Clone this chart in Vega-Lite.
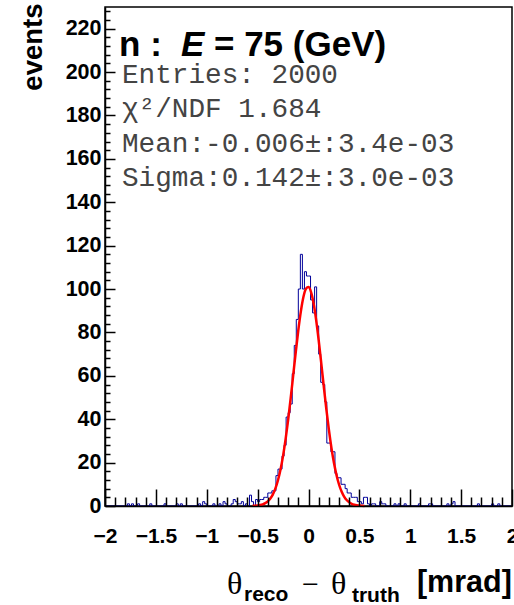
{
  "$schema": "https://vega.github.io/schema/vega-lite/v6.json",
  "width": 407,
  "height": 499,
  "autosize": {"type": "none"},
  "padding": {"left": 105, "top": 7, "right": 2, "bottom": 99},
  "background": "white",
  "config": {"view": {"stroke": "black", "strokeWidth": 1.5}, "font": "Liberation Sans", "axis": {"labelOverlap": false, "labelFlush": false, "labelBound": false, "labelSeparation": 0}},
  "layer": [
    {
      "data": {"values": [
        {"x":-1.99,"n":0},{"x":-1.97,"n":0},{"x":-1.95,"n":0},{"x":-1.93,"n":0},{"x":-1.91,"n":0},{"x":-1.89,"n":0},{"x":-1.87,"n":0},{"x":-1.85,"n":0},{"x":-1.83,"n":0},{"x":-1.81,"n":0},
        {"x":-1.79,"n":0},{"x":-1.77,"n":1},{"x":-1.75,"n":0},{"x":-1.73,"n":1},{"x":-1.71,"n":0},{"x":-1.69,"n":0},{"x":-1.67,"n":1},{"x":-1.65,"n":0},{"x":-1.63,"n":0},{"x":-1.61,"n":0},
        {"x":-1.59,"n":0},{"x":-1.57,"n":0},{"x":-1.55,"n":1},{"x":-1.53,"n":0},{"x":-1.51,"n":0},{"x":-1.49,"n":0},{"x":-1.47,"n":0},{"x":-1.45,"n":0},{"x":-1.43,"n":0},{"x":-1.41,"n":1},
        {"x":-1.39,"n":0},{"x":-1.37,"n":0},{"x":-1.35,"n":0},{"x":-1.33,"n":0},{"x":-1.31,"n":0},{"x":-1.29,"n":1},{"x":-1.27,"n":0},{"x":-1.25,"n":1},{"x":-1.23,"n":0},{"x":-1.21,"n":0},
        {"x":-1.19,"n":0},{"x":-1.17,"n":0},{"x":-1.15,"n":0},{"x":-1.13,"n":0},{"x":-1.11,"n":0},{"x":-1.09,"n":0},{"x":-1.07,"n":1},{"x":-1.05,"n":0},{"x":-1.03,"n":2},{"x":-1.01,"n":1},
        {"x":-0.99,"n":0},{"x":-0.97,"n":0},{"x":-0.95,"n":0},{"x":-0.93,"n":1},{"x":-0.91,"n":0},{"x":-0.89,"n":0},{"x":-0.87,"n":1},{"x":-0.85,"n":0},{"x":-0.83,"n":2},{"x":-0.81,"n":1},
        {"x":-0.79,"n":0},{"x":-0.77,"n":0},{"x":-0.75,"n":1},{"x":-0.73,"n":3},{"x":-0.71,"n":2},{"x":-0.69,"n":1},{"x":-0.67,"n":1},{"x":-0.65,"n":2},{"x":-0.63,"n":0},{"x":-0.61,"n":1},
        {"x":-0.59,"n":0},{"x":-0.57,"n":5},{"x":-0.55,"n":2},{"x":-0.53,"n":0},{"x":-0.51,"n":3},{"x":-0.49,"n":2},{"x":-0.47,"n":3},{"x":-0.45,"n":3},{"x":-0.43,"n":4},{"x":-0.41,"n":4},
        {"x":-0.39,"n":6},{"x":-0.37,"n":6},{"x":-0.35,"n":7},{"x":-0.33,"n":7},{"x":-0.31,"n":14},{"x":-0.29,"n":17},{"x":-0.27,"n":17},{"x":-0.25,"n":23},{"x":-0.23,"n":28},{"x":-0.21,"n":41},
        {"x":-0.19,"n":43},{"x":-0.17,"n":47},{"x":-0.15,"n":61},{"x":-0.13,"n":74},{"x":-0.11,"n":86},{"x":-0.09,"n":100},{"x":-0.07,"n":116},{"x":-0.05,"n":100},{"x":-0.03,"n":108},{"x":-0.01,"n":106},
        {"x":0.01,"n":106},{"x":0.03,"n":95},{"x":0.05,"n":89},{"x":0.07,"n":101},{"x":0.09,"n":83},{"x":0.11,"n":70},{"x":0.13,"n":57},{"x":0.15,"n":56},{"x":0.17,"n":48},{"x":0.19,"n":29},
        {"x":0.21,"n":29},{"x":0.23,"n":25},{"x":0.25,"n":25},{"x":0.27,"n":15},{"x":0.29,"n":13},{"x":0.31,"n":13},{"x":0.33,"n":10},{"x":0.35,"n":10},{"x":0.37,"n":8},{"x":0.39,"n":6},
        {"x":0.41,"n":6},{"x":0.43,"n":4},{"x":0.45,"n":4},{"x":0.47,"n":4},{"x":0.49,"n":2},{"x":0.51,"n":2},{"x":0.53,"n":1},{"x":0.55,"n":4},{"x":0.57,"n":4},{"x":0.59,"n":1},
        {"x":0.61,"n":0},{"x":0.63,"n":1},{"x":0.65,"n":1},{"x":0.67,"n":0},{"x":0.69,"n":0},{"x":0.71,"n":2},{"x":0.73,"n":1},{"x":0.75,"n":1},{"x":0.77,"n":0},{"x":0.79,"n":0},
        {"x":0.81,"n":0},{"x":0.83,"n":0},{"x":0.85,"n":1},{"x":0.87,"n":0},{"x":0.89,"n":1},{"x":0.91,"n":0},{"x":0.93,"n":0},{"x":0.95,"n":1},{"x":0.97,"n":0},{"x":0.99,"n":0},
        {"x":1.01,"n":0},{"x":1.03,"n":0},{"x":1.05,"n":0},{"x":1.07,"n":0},{"x":1.09,"n":1},{"x":1.11,"n":0},{"x":1.13,"n":0},{"x":1.15,"n":0},{"x":1.17,"n":0},{"x":1.19,"n":1},
        {"x":1.21,"n":1},{"x":1.23,"n":0},{"x":1.25,"n":0},{"x":1.27,"n":0},{"x":1.29,"n":0},{"x":1.31,"n":0},{"x":1.33,"n":0},{"x":1.35,"n":0},{"x":1.37,"n":1},{"x":1.39,"n":0},
        {"x":1.41,"n":1},{"x":1.43,"n":2},{"x":1.45,"n":0},{"x":1.47,"n":0},{"x":1.49,"n":0},{"x":1.51,"n":0},{"x":1.53,"n":0},{"x":1.55,"n":0},{"x":1.57,"n":0},{"x":1.59,"n":0},
        {"x":1.61,"n":0},{"x":1.63,"n":0},{"x":1.65,"n":0},{"x":1.67,"n":1},{"x":1.69,"n":0},{"x":1.71,"n":0},{"x":1.73,"n":0},{"x":1.75,"n":0},{"x":1.77,"n":0},{"x":1.79,"n":0},
        {"x":1.81,"n":1},{"x":1.83,"n":0},{"x":1.85,"n":0},{"x":1.87,"n":1},{"x":1.89,"n":0},{"x":1.91,"n":0},{"x":1.93,"n":0},{"x":1.95,"n":0},{"x":1.97,"n":0},{"x":1.99,"n":0}
      ]},
      "mark": {"type": "line", "interpolate": "step", "stroke": "#000099", "strokeWidth": 1},
      "encoding": {
        "x": {"field": "x", "type": "quantitative", "title": null,
          "scale": {"domain": [-2, 2], "nice": false, "zero": false},
          "axis": {
            "values": [-2,-1.9,-1.8,-1.7,-1.6,-1.5,-1.4,-1.3,-1.2,-1.1,-1,-0.9,-0.8,-0.7,-0.6,-0.5,-0.4,-0.3,-0.2,-0.1,0,0.1,0.2,0.3,0.4,0.5,0.6,0.7,0.8,0.9,1,1.1,1.2,1.3,1.4,1.5,1.6,1.7,1.8,1.9,2],
            "tickCount": 1000,
            "grid": false, "zindex": 1,
            "domainColor": "black", "domainWidth": 1.5,
            "tickColor": "black", "tickWidth": 1.5,
            "tickSize": {"condition": {"test": "abs(round(datum.value*10)) % 5 == 0", "value": -17}, "value": -9},
            "labelExpr": "abs(round(datum.value*10)) % 5 == 0 ? format(datum.value, '~g') : ''",
            "labelFontSize": 21,
            "labelPadding": 36,
            "labelFont": "Liberation Sans", "labelFontWeight": "bold", "labelColor": "black",
            "labelOverlap": false, "labelFlush": false, "labelBound": false
          }
        },
        "y": {"field": "n", "type": "quantitative",
          "scale": {"domain": [0, 230], "nice": false},
          "axis": {
            "values": [0,4,8,12,16,20,24,28,32,36,40,44,48,52,56,60,64,68,72,76,80,84,88,92,96,100,104,108,112,116,120,124,128,132,136,140,144,148,152,156,160,164,168,172,176,180,184,188,192,196,200,204,208,212,216,220,224,228],
            "tickCount": 1000,
            "grid": false, "zindex": 1,
            "domainColor": "black", "domainWidth": 1.5,
            "tickColor": "black", "tickWidth": 1.5,
            "tickSize": {"condition": {"test": "datum.value % 20 == 0", "value": -10}, "value": -5},
            "labelExpr": "datum.value % 20 == 0 ? format(datum.value, 'd') : ''",
            "labelFontSize": 21.5,
            "labelPadding": 14,
            "labelFont": "Liberation Sans", "labelFontWeight": "bold", "labelColor": "black",
            "labelOverlap": false, "labelFlush": false, "labelBound": false,
            "title": "events", "titleFont": "Liberation Sans", "titleFontWeight": "bold", "titleFontSize": 27.5, "titleColor": "black",
            "titleAngle": -90, "titleAlign": "right", "titleBaseline": "alphabetic", "titleX": -64, "titleY": -4
          }
        }
      }
    },
    {
      "data": {"values": [
        {"x":-0.55,"g":0.07},{"x":-0.525,"g":0.13},{"x":-0.5,"g":0.24},{"x":-0.475,"g":0.43},{"x":-0.45,"g":0.76},{"x":-0.425,"g":1.3},{"x":-0.4,"g":2.15},{"x":-0.375,"g":3.45},{"x":-0.35,"g":5.37},{"x":-0.325,"g":8.1},
        {"x":-0.3,"g":11.85},{"x":-0.275,"g":16.8},{"x":-0.25,"g":23.1},{"x":-0.225,"g":30.8},{"x":-0.2,"g":39.7},{"x":-0.175,"g":49.7},{"x":-0.15,"g":60.4},{"x":-0.125,"g":71.1},{"x":-0.1,"g":81.1},{"x":-0.075,"g":89.7},
        {"x":-0.05,"g":96.3},{"x":-0.025,"g":100.1},{"x":0,"g":100.9},{"x":0.025,"g":98.6},{"x":0.05,"g":93.4},{"x":0.075,"g":85.8},{"x":0.1,"g":76.4},{"x":0.125,"g":66.0},{"x":0.15,"g":55.2},{"x":0.175,"g":44.8},
        {"x":0.2,"g":35.3},{"x":0.225,"g":26.9},{"x":0.25,"g":19.9},{"x":0.275,"g":14.3},{"x":0.3,"g":9.91},{"x":0.325,"g":6.68},{"x":0.35,"g":4.36},{"x":0.375,"g":2.76},{"x":0.4,"g":1.7},{"x":0.425,"g":1.01},
        {"x":0.45,"g":0.58},{"x":0.475,"g":0.33},{"x":0.5,"g":0.18},{"x":0.525,"g":0.09},{"x":0.55,"g":0.04}
      ]},
      "mark": {"type": "line", "interpolate": "monotone", "stroke": "#ff0000", "strokeWidth": 2.5},
      "encoding": {
        "x": {"field": "x", "type": "quantitative"},
        "y": {"field": "g", "type": "quantitative"}
      }
    },
    {
      "data": {"values": [{"t": "n :"}]},
      "mark": {"type": "text", "align": "left", "baseline": "alphabetic", "font": "Liberation Sans", "fontWeight": "bold", "fontSize": 35, "color": "black"},
      "encoding": {"x": {"datum": -1.862, "type": "quantitative"}, "y": {"datum": 207.4, "type": "quantitative"}, "text": {"field": "t"}}
    },
    {
      "data": {"values": [{"t": "E"}]},
      "mark": {"type": "text", "align": "left", "baseline": "alphabetic", "font": "Liberation Sans", "fontWeight": "bold", "fontStyle": "italic", "fontSize": 35, "color": "black"},
      "encoding": {"x": {"datum": -1.253, "type": "quantitative"}, "y": {"datum": 207.4, "type": "quantitative"}, "text": {"field": "t"}}
    },
    {
      "data": {"values": [{"t": "= 75 (GeV)"}]},
      "mark": {"type": "text", "align": "left", "baseline": "alphabetic", "font": "Liberation Sans", "fontWeight": "bold", "fontSize": 35, "color": "black"},
      "encoding": {"x": {"datum": -0.929, "type": "quantitative"}, "y": {"datum": 207.4, "type": "quantitative"}, "text": {"field": "t"}}
    },
    {
      "data": {"values": [{"t": ["Entries: 2000", "χ²/NDF 1.684", "Mean:-0.006±:3.4e-03", "Sigma:0.142±:3.0e-03"]}]},
      "mark": {"type": "text", "align": "left", "baseline": "alphabetic", "font": "Liberation Mono", "fontSize": 27.7, "lineHeight": 34.5, "color": "#444444"},
      "encoding": {"x": {"datum": -1.833, "type": "quantitative"}, "y": {"datum": 195.0, "type": "quantitative"}, "text": {"field": "t"}}
    },
    {
      "data": {"values": [{"t": "θ"}]},
      "mark": {"type": "text", "align": "left", "baseline": "alphabetic", "font": "Liberation Serif", "fontSize": 32, "color": "black"},
      "encoding": {"x": {"datum": -0.801, "type": "quantitative"}, "y": {"datum": -40.56, "type": "quantitative"}, "text": {"field": "t"}}
    },
    {
      "data": {"values": [{"t": "reco"}]},
      "mark": {"type": "text", "align": "left", "baseline": "alphabetic", "font": "Liberation Sans", "fontWeight": "bold", "fontSize": 21, "color": "black"},
      "encoding": {"x": {"datum": -0.634, "type": "quantitative"}, "y": {"datum": -43.8, "type": "quantitative"}, "text": {"field": "t"}}
    },
    {
      "data": {"values": [{"t": "−"}]},
      "mark": {"type": "text", "align": "left", "baseline": "alphabetic", "font": "Liberation Serif", "fontSize": 30, "color": "black"},
      "encoding": {"x": {"datum": -0.064, "type": "quantitative"}, "y": {"datum": -40.56, "type": "quantitative"}, "text": {"field": "t"}}
    },
    {
      "data": {"values": [{"t": "θ"}]},
      "mark": {"type": "text", "align": "left", "baseline": "alphabetic", "font": "Liberation Serif", "fontSize": 32, "color": "black"},
      "encoding": {"x": {"datum": 0.221, "type": "quantitative"}, "y": {"datum": -40.56, "type": "quantitative"}, "text": {"field": "t"}}
    },
    {
      "data": {"values": [{"t": "truth"}]},
      "mark": {"type": "text", "align": "left", "baseline": "alphabetic", "font": "Liberation Sans", "fontWeight": "bold", "fontSize": 21, "color": "black"},
      "encoding": {"x": {"datum": 0.427, "type": "quantitative"}, "y": {"datum": -44.2, "type": "quantitative"}, "text": {"field": "t"}}
    },
    {
      "data": {"values": [{"t": "[mrad]"}]},
      "mark": {"type": "text", "align": "left", "baseline": "alphabetic", "font": "Liberation Sans", "fontWeight": "bold", "fontSize": 30.5, "color": "black"},
      "encoding": {"x": {"datum": 1.066, "type": "quantitative"}, "y": {"datum": -39.6, "type": "quantitative"}, "text": {"field": "t"}}
    }
  ]
}
